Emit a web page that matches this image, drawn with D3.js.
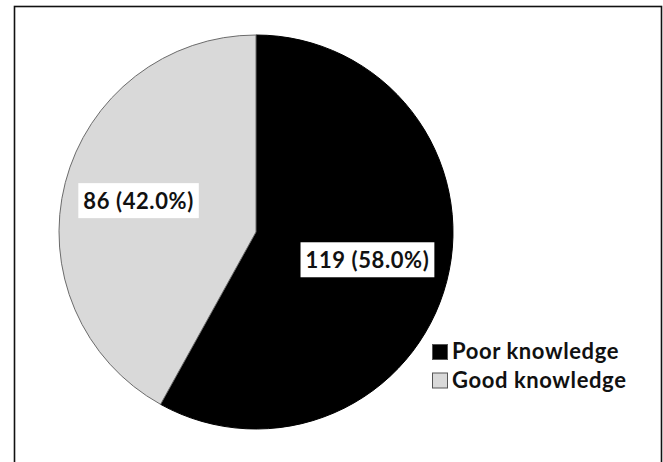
<!DOCTYPE html>
<html>
<head>
<meta charset="utf-8">
<script src="https://cdn.jsdelivr.net/npm/d3@7"></script>
<style>
  body { margin: 0; background: #fff; }
  svg { display: block; }
</style>
</head>
<body>
<svg id="chart"></svg>
<script>
// chart data
const categories = ["Poor knowledge", "Good knowledge"];
const counts = [119, 86];
const percents = [58.0, 42.0];
const colors = ["#000000", "#d9d9d9"];

const width = 663, height = 462;
const cx = 256, cy = 232, radius = 197;

const svg = d3.select("#chart")
    .attr("width", width)
    .attr("height", height)
    .attr("viewBox", `0 0 ${width} ${height}`)
    .style("font-family", "Lato, 'Open Sans', sans-serif");

// outer frame (bottom edge runs off the picture)
svg.append("rect")
    .attr("x", 14.5)
    .attr("y", 6.5)
    .attr("width", 647)
    .attr("height", 480)
    .attr("fill", "none")
    .attr("stroke", "#111")
    .attr("stroke-width", 1.6);

const data = categories.map((c, i) => ({ name: c, value: counts[i], pct: percents[i], color: colors[i] }));

const pie = d3.pie()
    .sort(null)
    .value(d => d.value);

const arc = d3.arc().innerRadius(0).outerRadius(radius);
const labelArc = d3.arc().innerRadius(radius * 0.6).outerRadius(radius * 0.6);

const g = svg.append("g").attr("transform", `translate(${cx},${cy})`);

const arcs = pie(data);

g.selectAll("path")
  .data(arcs)
  .join("path")
    .attr("d", arc)
    .attr("fill", d => d.data.color)
    .attr("stroke", d => d.data.color === "#000000" ? "#000" : "#6b6b6b")
    .attr("stroke-width", 1);

// value labels in white boxes
const labels = g.selectAll("g.lbl")
  .data(arcs)
  .join("g")
    .attr("class", "lbl")
    .attr("transform", d => {
      const [x, y] = labelArc.centroid(d);
      return `translate(${x - 3},${y - 1})`;
    });

labels.append("text")
    .attr("text-anchor", "middle")
    .attr("dy", "0.35em")
    .attr("font-size", 22)
    .attr("font-weight", "bold")
    .attr("letter-spacing", 0.6)
    .attr("fill", "#111")
    .text(d => `${d.data.value} (${d.data.pct.toFixed(1)}%)`);

labels.each(function() {
  const sel = d3.select(this);
  const bb = sel.select("text").node().getBBox();
  sel.insert("rect", "text")
      .attr("x", bb.x - 5)
      .attr("y", bb.y - 4)
      .attr("width", bb.width + 10)
      .attr("height", bb.height + 8)
      .attr("fill", "#fff");
});

// legend
const legend = svg.append("g")
    .attr("transform", "translate(432,344)");

const item = legend.selectAll("g")
  .data(data)
  .join("g")
    .attr("transform", (d, i) => `translate(0,${i * 28.5})`);

item.append("rect")
    .attr("x", 0.5)
    .attr("y", 0.5)
    .attr("width", 15)
    .attr("height", 15)
    .attr("fill", d => d.color)
    .attr("stroke", "#555")
    .attr("stroke-width", 1);

item.append("text")
    .attr("x", 20)
    .attr("y", 15)
    .attr("font-size", 22)
    .attr("font-weight", "bold")
    .attr("letter-spacing", 0.6)
    .attr("fill", "#111")
    .text(d => d.name);
</script>
</body>
</html>
